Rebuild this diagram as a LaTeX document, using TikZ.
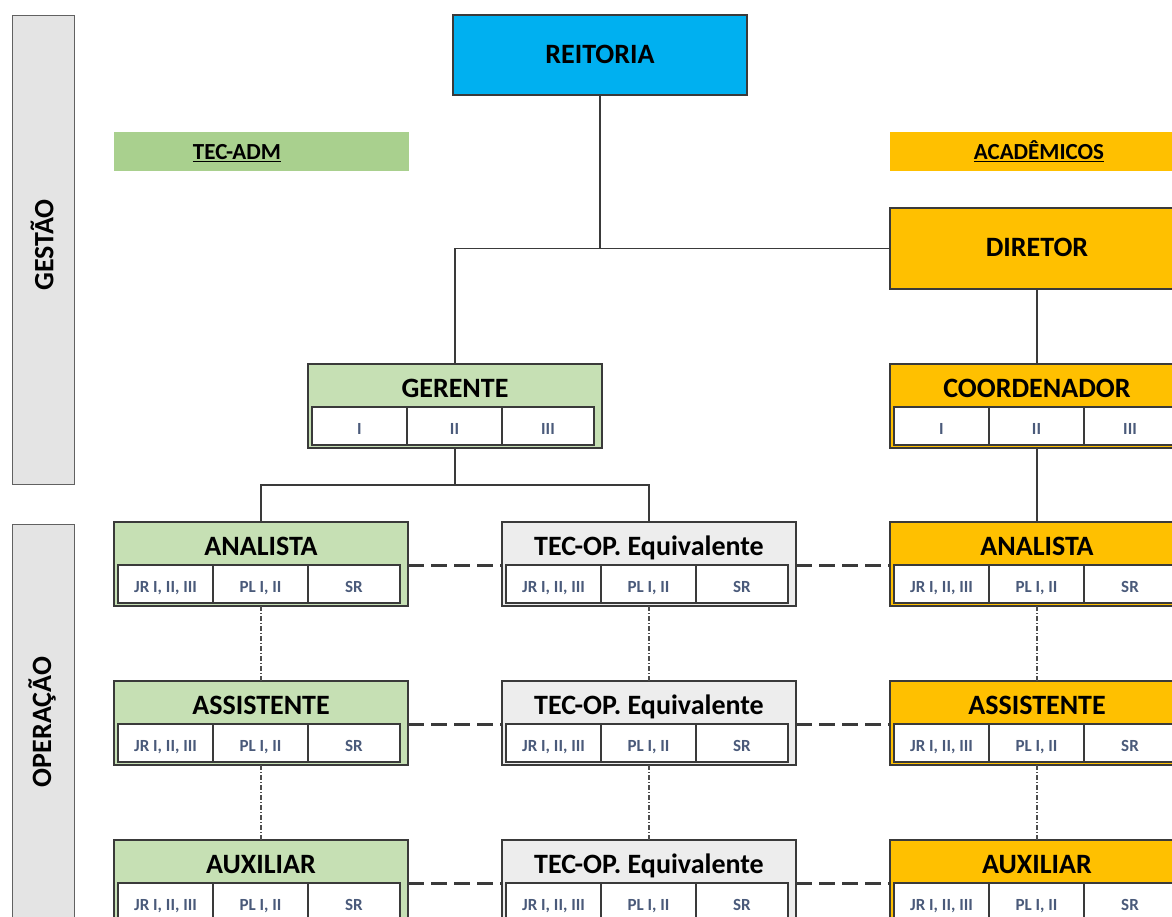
\documentclass[tikz,border=0pt]{standalone}
\usepackage{fontspec}
\setmainfont{Carlito}
\usetikzlibrary{calc}
\definecolor{rblue}{HTML}{00B0F0}
\definecolor{ggreen}{HTML}{C6E0B4}
\definecolor{bgreen}{HTML}{A9D08E}
\definecolor{gold}{HTML}{FFC000}
\definecolor{lgray}{HTML}{EDEDED}
\definecolor{sgray}{HTML}{E4E4E4}
\definecolor{celltxt}{HTML}{4A5A7A}
\definecolor{edge}{HTML}{3A3A3A}
\tikzset{
  outer/.style={draw=edge, line width=1.4pt, minimum width=294pt, minimum height=84pt, anchor=north west, inner sep=0pt, outer sep=0pt},
  bigbox/.style={draw=edge, line width=1.4pt, anchor=north west, inner sep=0pt, outer sep=0pt},
  titletext/.style={font=\bfseries\fontsize{28}{30}\selectfont, inner sep=0pt, anchor=base},
  cellbox/.style={draw=edge, line width=1.2pt, fill=white, anchor=north west, minimum height=38pt, inner sep=0pt, outer sep=0pt},
  celltext/.style={text=celltxt, font=\bfseries\fontsize{17}{19}\selectfont, inner sep=0pt, anchor=base},
  banner/.style={fill=#1, anchor=north west, minimum width=300pt, minimum height=39pt, inner sep=0pt},
  bantext/.style={font=\bfseries\fontsize{23}{25}\selectfont, inner sep=0pt, anchor=base},
  side/.style={draw=edge!80, fill=sgray, line width=1.4pt, anchor=north west, minimum width=62pt, inner sep=0pt},
  sidetext/.style={font=\bfseries\fontsize{28}{30}\selectfont, rotate=90, inner sep=0pt},
  conn/.style={draw=edge, line width=1.4pt},
  hdash/.style={draw=edge, line width=3pt, dash pattern=on 16pt off 7pt},
  vdash/.style={draw=edge!90, line width=1.1pt, dash pattern=on 5pt off 2pt on 1pt off 2pt},
}
\newcommand\rolebox[8]{%
  \node[outer, fill=#4] (#1) at (#2,#3) {};
  \node[titletext] (#1t) at ({#2+147},{#3+33}) {#5};
  \node[cellbox, minimum width=95pt] (#1a) at ({#2+4},{#3+43}) {};
  \node[cellbox, minimum width=95pt] (#1b) at ({#2+99},{#3+43}) {};
  \node[cellbox, minimum width=92pt] (#1c) at ({#2+194},{#3+43}) {};
  \node[celltext] (#1at) at ({#2+51.5},{#3+70}) {#6};
  \node[celltext] (#1bt) at ({#2+146.5},{#3+70}) {#7};
  \node[celltext] (#1ct) at ({#2+240},{#3+70}) {#8};
}
\begin{document}
\begin{tikzpicture}[x=1pt,y=-1pt]
\useasboundingbox (0,0) rectangle (1172,917);
\begin{scope}
\clip (0,0) rectangle (1172,917);
% side boxes
\node[side, minimum height=469pt] (ges) at (12,15) {};
\node[sidetext] (gest) at (42,245) {GESTÃO};
\node[side, minimum height=420pt] (ope) at (12,524) {};
\node[sidetext] (opet) at (42,722) {OPERAÇÃO};
% banners
\node[banner=bgreen, minimum width=295pt] (tad) at (114,132) {};
\node[bantext] (tadt) at (237,160) {\underline{TEC-ADM}};
\node[banner=gold] (aca) at (890,132) {};
\node[bantext] (acat) at (1039,160) {\underline{ACADÊMICOS}};
% top boxes
\node[bigbox, fill=rblue, minimum width=294pt, minimum height=80pt] (rei) at (453,15) {};
\node[titletext] (reit) at (600,64) {REITORIA};
\node[bigbox, fill=gold, minimum width=294pt, minimum height=81pt] (dir) at (890,208) {};
\node[titletext] (dirt) at (1037,257) {DIRETOR};
% gestao boxes
\rolebox{ger}{308}{364}{ggreen}{GERENTE}{I}{II}{III}
\rolebox{coo}{890}{364}{gold}{COORDENADOR}{I}{II}{III}
% operacao boxes
\rolebox{lan}{114}{522}{ggreen}{ANALISTA}{JR I, II, III}{PL I, II}{SR}
\rolebox{man}{502}{522}{lgray}{TEC-OP. Equivalente}{JR I, II, III}{PL I, II}{SR}
\rolebox{ran}{890}{522}{gold}{ANALISTA}{JR I, II, III}{PL I, II}{SR}
\rolebox{las}{114}{681}{ggreen}{ASSISTENTE}{JR I, II, III}{PL I, II}{SR}
\rolebox{mas}{502}{681}{lgray}{TEC-OP. Equivalente}{JR I, II, III}{PL I, II}{SR}
\rolebox{ras}{890}{681}{gold}{ASSISTENTE}{JR I, II, III}{PL I, II}{SR}
\rolebox{lau}{114}{840}{ggreen}{AUXILIAR}{JR I, II, III}{PL I, II}{SR}
\rolebox{mau}{502}{840}{lgray}{TEC-OP. Equivalente}{JR I, II, III}{PL I, II}{SR}
\rolebox{rau}{890}{840}{gold}{AUXILIAR}{JR I, II, III}{PL I, II}{SR}
% solid connectors
\draw[conn] (rei.south) -- (rei.south |- dir.west);
\draw[conn] (dir.west) -- (ger.north |- dir.west) -- (ger.north);
\draw[conn] (dir.south) -- (coo.north);
\draw[conn] (coo.south) -- (ran.north);
\coordinate (jn) at (456,485);
\draw[conn] (ger.south) -- (ger.south |- jn);
\draw[conn] (lan.north) -- (lan.north |- jn) -- (man.north |- jn) -- (man.north);
% dashed horizontal
\foreach \a/\b/\c in {lan/man/ran, las/mas/ras, lau/mau/rau}{
  \draw[hdash] (\a.east |- \a a.north) -- (\b.west |- \b a.north);
  \draw[hdash] (\b.east |- \b a.north) -- (\c.west |- \c a.north);
}
% dash-dot vertical
\foreach \u/\v in {lan/las, las/lau, man/mas, mas/mau, ran/ras, ras/rau}{
  \draw[vdash] (\u.south) -- (\v.north);
}
\end{scope}
\end{tikzpicture}
\end{document}
